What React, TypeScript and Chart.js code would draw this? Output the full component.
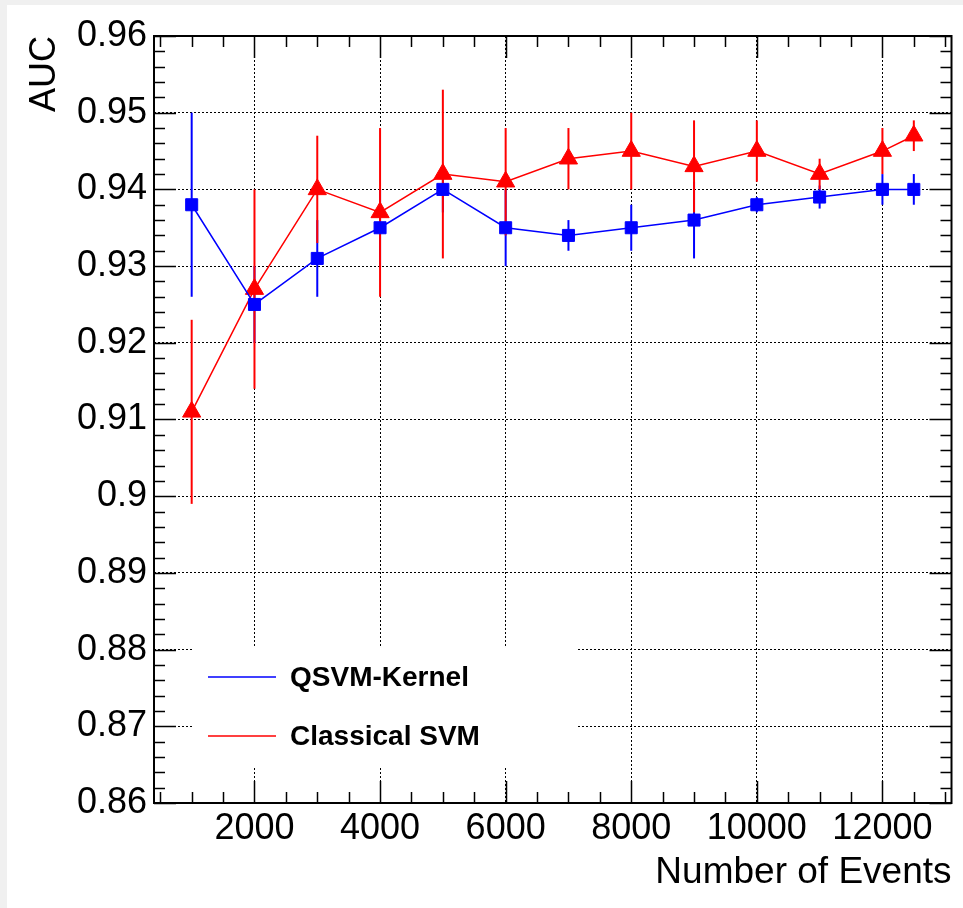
import React, { useEffect, useRef } from "react";
import { Chart, registerables } from "chart.js";

Chart.register(...registerables);

const events = [1000, 2000, 3000, 4000, 5000, 6000, 7000, 8000, 9000, 10000, 11000, 12000, 12500];
const qsvmAuc = [0.938, 0.925, 0.931, 0.935, 0.940, 0.935, 0.934, 0.935, 0.936, 0.938, 0.939, 0.940, 0.940];
const qsvmErr = [0.012, 0.005, 0.005, 0.005, 0.003, 0.005, 0.002, 0.003, 0.005, 0.001, 0.0015, 0.002, 0.002];
const classicalAuc = [0.911, 0.927, 0.940, 0.937, 0.942, 0.941, 0.944, 0.945, 0.943, 0.945, 0.942, 0.945, 0.947];
const classicalErr = [0.012, 0.013, 0.007, 0.011, 0.011, 0.007, 0.004, 0.005, 0.006, 0.004, 0.002, 0.003, 0.002];

const xMajorTicks = [2000, 4000, 6000, 8000, 10000, 12000];
const yMajorTicks = [0.86, 0.87, 0.88, 0.89, 0.9, 0.91, 0.92, 0.93, 0.94, 0.95, 0.96];

const FONT = "'Liberation Sans', Arial, Helvetica, sans-serif";

const errorsByDataset = [qsvmErr, classicalErr];

const rootPlugin = {
  id: "rootStyle",
  beforeDatasetsDraw(chart: any) {
    const { ctx, scales } = chart;
    const xs = scales.x;
    const ys = scales.y;
    ctx.save();
    // legend box (covers grid)
    ctx.fillStyle = "#ffffff";
    ctx.fillRect(186, 642, 385, 119);
    ctx.font = `bold 28px ${FONT}`;
    ctx.textBaseline = "middle";
    ctx.textAlign = "left";
    chart.data.datasets.forEach((ds: any, i: number) => {
      const ly = 672 + i * 59;
      ctx.strokeStyle = ds.borderColor;
      ctx.lineWidth = 1.5;
      ctx.beginPath();
      ctx.moveTo(201, ly);
      ctx.lineTo(269, ly);
      ctx.stroke();
      ctx.fillStyle = "#000";
      ctx.fillText(ds.label, 283, ly + 1);
    });
    // error bars
    chart.data.datasets.forEach((ds: any, i: number) => {
      const errs = errorsByDataset[i];
      ctx.strokeStyle = ds.borderColor;
      ctx.lineWidth = 2;
      ds.data.forEach((p: any, j: number) => {
        const px = xs.getPixelForValue(p.x);
        const y1 = ys.getPixelForValue(p.y - errs[j]);
        const y2 = ys.getPixelForValue(p.y + errs[j]);
        ctx.beginPath();
        ctx.moveTo(px, y1);
        ctx.lineTo(px, y2);
        ctx.stroke();
      });
    });
    ctx.restore();
  },
  afterDraw(chart: any) {
    const { ctx, chartArea, scales } = chart;
    const xs = scales.x;
    const ys = scales.y;
    const { left, right, top, bottom } = chartArea;
    ctx.save();
    ctx.strokeStyle = "#000";
    ctx.lineWidth = 1.5;
    // y ticks, both sides
    for (let k = 0; k <= 50; k++) {
      const v = 0.86 + k * 0.002;
      const py = Math.round(ys.getPixelForValue(v)) + 0.5;
      const len = k % 5 === 0 ? 22 : 11;
      ctx.beginPath();
      ctx.moveTo(left, py);
      ctx.lineTo(left + len, py);
      ctx.moveTo(right, py);
      ctx.lineTo(right - len, py);
      ctx.stroke();
    }
    for (let v = 500; v <= 13000; v += 500) {
      const px = Math.round(xs.getPixelForValue(v)) + 0.5;
      const len = v % 2000 === 0 ? 22 : 11;
      ctx.beginPath();
      ctx.moveTo(px, bottom);
      ctx.lineTo(px, bottom - len);
      ctx.moveTo(px, top);
      ctx.lineTo(px, top + len);
      ctx.stroke();
    }
    ctx.lineWidth = 2;
    ctx.strokeRect(left, top, right - left, bottom - top);
    ctx.restore();
  },
};

export default function App() {
  const ref = useRef<HTMLCanvasElement | null>(null);

  useEffect(() => {
    document.body.style.margin = "0";
    document.body.style.background = "#f0f0f0";
    const canvas = ref.current;
    if (!canvas) return;
    const chart = new Chart(canvas, {
      type: "line",
      data: {
        datasets: [
          {
            label: "QSVM-Kernel",
            data: events.map((x, i) => ({ x, y: qsvmAuc[i] })),
            borderColor: "#0000ff",
            backgroundColor: "#0000ff",
            pointBackgroundColor: "#0000ff",
            pointBorderColor: "#0000ff",
            pointStyle: "rect",
            pointRadius: 8.5,
            pointBorderWidth: 1,
            borderWidth: 1.5,
            tension: 0,
            fill: false,
          },
          {
            label: "Classical SVM",
            data: events.map((x, i) => ({ x, y: classicalAuc[i] })),
            borderColor: "#ff0000",
            backgroundColor: "#ff0000",
            pointBackgroundColor: "#ff0000",
            pointBorderColor: "#ff0000",
            pointStyle: "triangle",
            pointRadius: 10.5,
            pointBorderWidth: 1,
            borderWidth: 1.5,
            tension: 0,
            fill: false,
          },
        ],
      },
      options: {
        animation: false,
        responsive: false,
        devicePixelRatio: 1,
        layout: { padding: { top: 31, right: 11, left: 0, bottom: 0 } },
        plugins: {
          legend: { display: false },
          tooltip: { enabled: false },
        },
        scales: {
          x: {
            type: "linear",
            min: 400,
            max: 13100,
            afterBuildTicks: (s: any) => {
              s.ticks = xMajorTicks.map((v) => ({ value: v }));
            },
            afterFit: (s: any) => {
              s.height = 105;
            },
            ticks: {
              font: { size: 36, family: FONT },
              color: "#000",
              padding: 4,
              maxRotation: 0,
              autoSkip: false,
              callback: (v: any) => String(v),
            },
            grid: { color: "#000", lineWidth: 1, drawTicks: false },
            border: { display: false, dash: [2, 2] },
            title: {
              display: true,
              text: "Number of Events",
              align: "end",
              color: "#000",
              font: { size: 37, family: FONT },
              padding: { top: 0, bottom: 13 },
            },
          },
          y: {
            type: "linear",
            min: 0.86,
            max: 0.96,
            afterBuildTicks: (s: any) => {
              s.ticks = yMajorTicks.map((v) => ({ value: v }));
            },
            afterFit: (s: any) => {
              s.width = 147;
            },
            ticks: {
              font: { size: 36, family: FONT },
              color: "#000",
              padding: 7,
              autoSkip: false,
              callback: (v: any) => String(parseFloat(Number(v).toFixed(2))),
            },
            grid: { color: "#000", lineWidth: 1, drawTicks: false },
            border: { display: false, dash: [2, 2] },
            title: {
              display: true,
              text: "AUC",
              align: "end",
              color: "#000",
              font: { size: 36, family: FONT },
              padding: { top: 16, bottom: 0 },
            },
          },
        },
      },
      plugins: [rootPlugin],
    } as any);
    return () => chart.destroy();
  }, []);

  return (
    <div style={{ paddingLeft: 7, paddingTop: 5 }}>
      <canvas
        ref={ref}
        width={956}
        height={903}
        style={{ display: "block", width: 956, height: 903, background: "#ffffff" }}
      />
    </div>
  );
}
